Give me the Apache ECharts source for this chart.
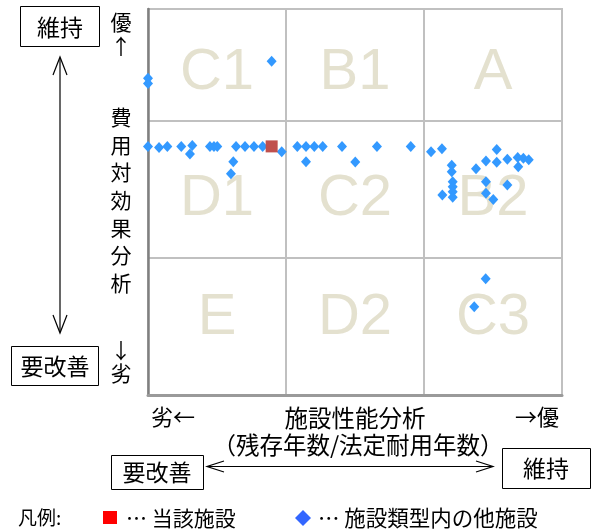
<!DOCTYPE html>
<html>
<head>
<meta charset="utf-8">
<script src="https://cdn.jsdelivr.net/npm/echarts@6/dist/echarts.min.js"></script>
<style>
html,body{margin:0;padding:0;background:#fff;}
#main{width:594px;height:530px;}
</style>
</head>
<body>
<div id="main"></div>
<script>
// 施設性能分析 (x) vs 費用対効果分析 (y), scaled so each zone is 1 unit wide
const otherX = [0.00,0.00,0.896,
  0.00,0.080,0.140,0.241,0.321,0.304,0.449,0.478,0.502,0.638,0.703,0.768,0.831,0.969,
  1.082,1.145,1.205,1.266,1.406,1.659,1.904,2.051,2.130,1.145,1.502,0.618,0.601,
  2.527,2.201,2.201,2.208,2.208,2.208,2.208,2.133,2.377,2.449,2.527,2.604,2.679,2.720,2.759,2.683,2.449,2.449,2.502,2.604,
  2.447,2.364];
const otherY = [2.312,2.275,2.436,
  1.814,1.806,1.814,1.814,1.822,1.759,1.814,1.814,1.814,1.814,1.814,1.814,1.814,1.776,
  1.814,1.814,1.814,1.814,1.814,1.814,1.814,1.776,1.798,1.703,1.701,1.703,1.615,
  1.792,1.677,1.630,1.557,1.520,1.484,1.443,1.460,1.652,1.708,1.699,1.721,1.734,1.728,1.718,1.666,1.557,1.472,1.428,1.533,
  0.849,0.645];
const thisX = [0.896];
const thisY = [1.815];
const zoneNames = ['C1','B1','A','D1','C2','B2','E','D2','C3'];
const zoneX = [0.5,1.5,2.5,0.5,1.5,2.5,0.5,1.5,2.5];
const zoneY = [2.35,2.35,2.35,1.43,1.43,1.43,0.56,0.56,0.56];
const xMin = 0, xMax = 3, yMin = 0, yMax = 2.818;

const JP = '"Noto Sans CJK JP", sans-serif';
const chart = echarts.init(document.getElementById('main'), null, {renderer:'canvas'});

function txt(x, y, s, size, align) {
  return {type:'text', x:x, y:y, style:{text:s, font: size + 'px ' + JP, fill:'#000', align: align || 'center', verticalAlign:'middle'}};
}
function box(x, y, w, h) {
  return {type:'rect', shape:{x:x, y:y, width:w, height:h}, style:{fill:'#fff', stroke:'#000', lineWidth:1}};
}
function pl(points) {
  return {type:'polyline', shape:{points:points}, style:{stroke:'#000', lineWidth:1.2, fill:null}};
}

const vertChars = '費用対効果分析'.split('');
const graphics = [
  box(20.5, 6.5, 79, 40), txt(60, 27, '維持', 23),
  box(11.5, 346.5, 87, 39), txt(55, 366, '要改善', 23),
  pl([[60, 58], [60, 332]]),
  pl([[53, 75], [60, 57], [67, 75]]),
  pl([[53, 315], [60, 333], [67, 315]]),
  txt(121, 22, '優', 21), txt(121, 46, '↑', 21),
  txt(121, 350, '↓', 21), txt(121, 373, '劣', 21),
  txt(173, 417, '劣←', 22), txt(537, 417, '→優', 22),
  txt(355, 418, '施設性能分析', 23.5),
  txt(358, 445, '（残存年数/法定耐用年数）', 23.5),
  box(111.5, 455.5, 92, 34), txt(157, 472, '要改善', 23),
  box(502.5, 448.5, 88, 40), txt(546, 468, '維持', 23),
  pl([[207, 466.5], [493, 466.5]]),
  pl([[224, 461], [207, 466.5], [224, 472]]),
  pl([[476, 461], [493, 466.5], [476, 472]]),
  txt(18, 518, '凡例:', 19, 'left'),
  {type:'rect', shape:{x:103, y:511, width:14, height:13}, style:{fill:'#ff0000'}},
  txt(126, 518, '… 当該施設', 21, 'left'),
  {type:'polygon', shape:{points:[[303,510],[311,518],[303,526],[295,518]]}, style:{fill:'#3366ff'}},
  txt(318, 518, '… 施設類型内の他施設', 21.5, 'left')
];
vertChars.forEach((c, i) => graphics.push(txt(121, 117 + i * 27.7, c, 21)));

const option = {
  animation: false,
  backgroundColor: '#fff',
  grid: {left:148, top:9, width:414, height:386, show:true, borderColor:'#c0c0c0', borderWidth:2, backgroundColor:'#fff'},
  xAxis: {type:'value', min:xMin, max:xMax, interval:1,
    axisLine:{show:true, onZero:false, lineStyle:{color:'#9a9a9a', width:3}},
    axisTick:{show:false}, axisLabel:{show:false},
    splitLine:{show:true, lineStyle:{color:'#c0c0c0', width:2}}},
  yAxis: {type:'value', min:yMin, max:yMax, interval:1,
    axisLine:{show:true, onZero:false, lineStyle:{color:'#808080', width:2.5}},
    axisTick:{show:false}, axisLabel:{show:false},
    splitLine:{show:true, lineStyle:{color:'#c0c0c0', width:2}}},
  series: [
    {type:'scatter', silent:true, symbolSize:0, z:1,
     data: zoneNames.map((n, i) => ({value:[zoneX[i], zoneY[i]], name:n})),
     label:{show:true, position:'inside', formatter: p => p.name, color:'#ddd9c3',
       fontFamily:'"Liberation Sans", Arial, sans-serif', fontSize:58}},
    {type:'scatter', symbol:'diamond', symbolSize:[10,11], z:3,
     itemStyle:{color:'#3399ff', opacity:1},
     data: otherX.map((x, i) => [x, otherY[i]])},
    {type:'scatter', symbol:'rect', symbolSize:12, z:4,
     itemStyle:{color:'#c0504d', opacity:1},
     data: thisX.map((x, i) => [x, thisY[i]])}
  ],
  graphic: graphics
};
chart.setOption(option);
</script>
</body>
</html>
